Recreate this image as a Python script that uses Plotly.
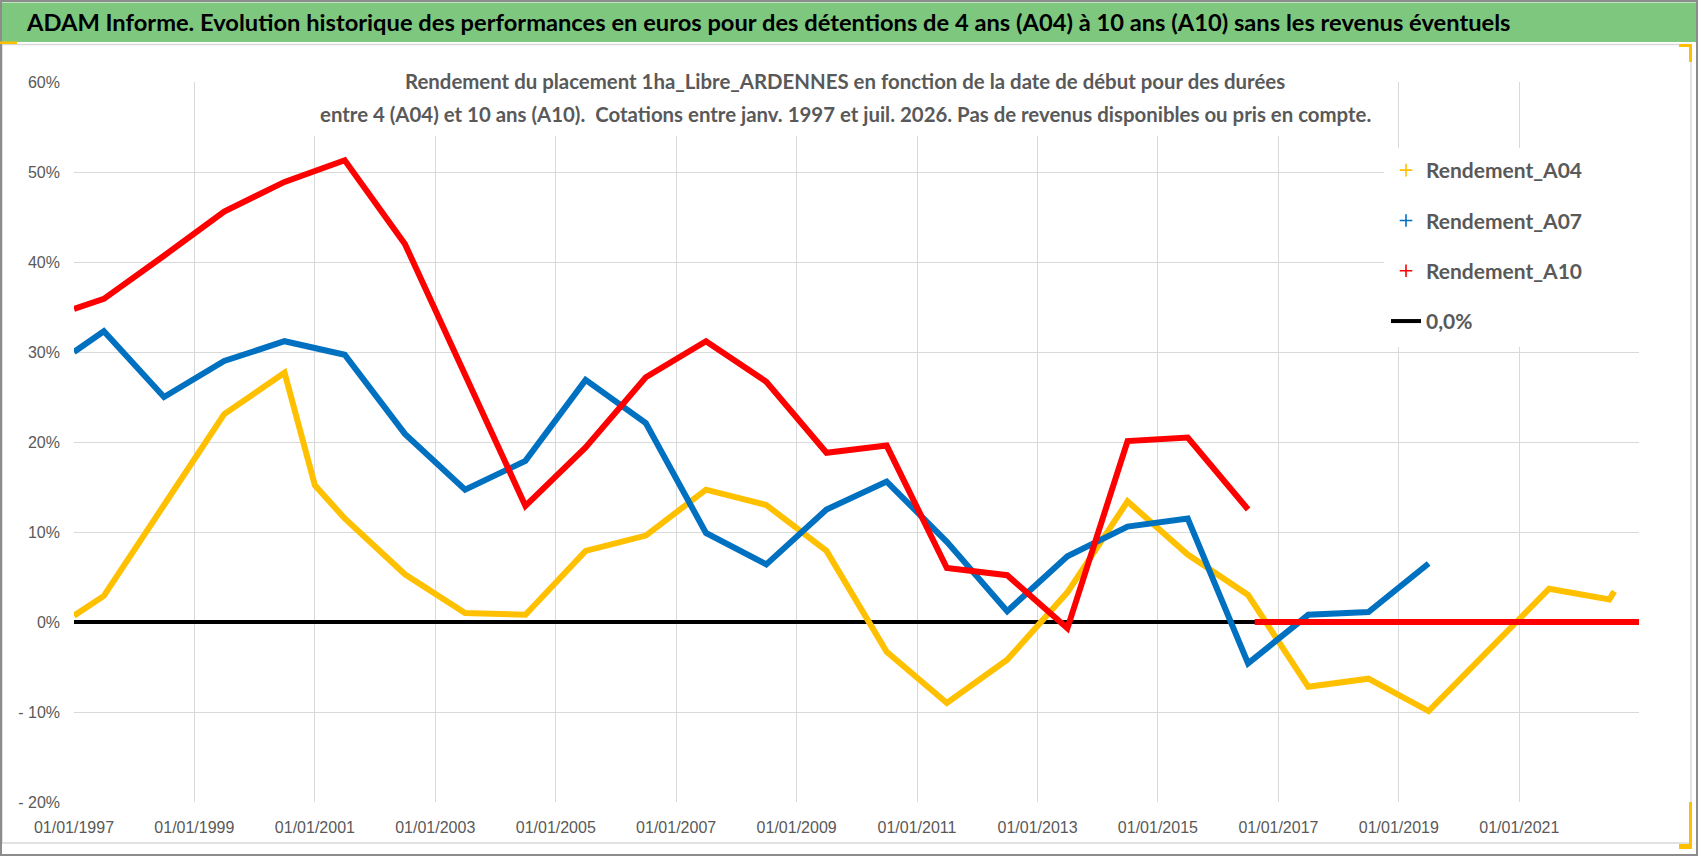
import plotly.graph_objects as go

# ---------------- data ----------------
A04_DATES = ["1997-01-01", "1997-07-01", "1998-07-01", "1999-07-01", "2000-07-01",
             "2001-01-01", "2001-07-01", "2002-07-01", "2003-07-01", "2004-07-01",
             "2005-07-01", "2006-07-01", "2007-07-01", "2008-07-01", "2009-07-01",
             "2010-07-01", "2011-07-01", "2012-07-01", "2013-07-01", "2014-07-01",
             "2015-07-01", "2016-07-01", "2017-07-01", "2018-07-01", "2019-07-01",
             "2020-07-01", "2021-07-01", "2022-07-01", "2022-07-31"]
A04_VALUES = [0.7, 2.9, 13.0, 23.1, 27.7, 15.2, 11.5, 5.3, 1.0, 0.8, 7.9, 9.6, 14.7, 13.0,
              7.9, -3.3, -9.0, -4.2, 3.3, 13.4, 7.5, 3.0, -7.2, -6.3, -9.9, -3.1, 3.7,
              2.5, 3.4]
A04_ZERO_DATES = ["2022-08-01", "2022-12-28"]
A04_ZERO_VALUES = [0.0, 0.0]

A07_DATES = ["1997-01-01", "1997-07-01", "1998-07-01", "1999-07-01", "2000-07-01",
             "2001-07-01", "2002-07-01", "2003-07-01", "2004-07-01", "2005-07-01",
             "2006-07-01", "2007-07-01", "2008-07-01", "2009-07-01", "2010-07-01",
             "2011-07-01", "2012-07-01", "2013-07-01", "2014-07-01", "2015-07-01",
             "2016-07-01", "2017-07-01", "2018-07-01", "2019-07-01"]
A07_VALUES = [30.0, 32.3, 25.0, 29.0, 31.2, 29.7, 20.9, 14.7, 17.9, 26.9, 22.1, 9.9,
              6.4, 12.5, 15.6, 8.9, 1.2, 7.3, 10.6, 11.5, -4.6, 0.8, 1.1, 6.5]
A07_ZERO_DATES = ["2019-08-01", "2022-12-28"]
A07_ZERO_VALUES = [0.0, 0.0]

A10_DATES = ["1997-01-01", "1997-07-01", "1998-07-01", "1999-07-01", "2000-07-01",
             "2001-07-01", "2002-07-01", "2003-07-01", "2004-07-01", "2005-07-01",
             "2006-07-01", "2007-07-01", "2008-07-01", "2009-07-01", "2010-07-01",
             "2011-07-01", "2012-07-01", "2013-07-01", "2014-07-01", "2015-07-01",
             "2016-07-01"]
A10_VALUES = [34.8, 35.9, 40.7, 45.6, 48.9, 51.3, 42.0, 27.6, 12.9, 19.4, 27.2, 31.2,
              26.7, 18.8, 19.6, 6.0, 5.2, -0.7, 20.1, 20.5, 12.5]
A10_ZERO_DATES = ["2016-08-10", "2022-12-28"]
A10_ZERO_VALUES = [0.0, 0.0]

ZERO_DATES = ["1997-01-01", "2022-12-28"]
ZERO_VALUES = [0.0, 0.0]

SERIES_NAMES = ["Rendement_A04", "Rendement_A07", "Rendement_A10", "0,0%"]
Y_TICK_VALUES = [-20, -10, 0, 10, 20, 30, 40, 50, 60]
Y_TICK_LABELS = ["- 20%", "- 10%", "0%", "10%", "20%", "30%", "40%", "50%", "60%"]
X_RANGE = ["1997-01-01", "2022-12-28"]

TITLE = ("ADAM Informe. Evolution historique des performances en euros pour des détentions "
         "de 4 ans (A04) à 10 ans (A10) sans les revenus éventuels")
SUB1 = "Rendement du placement 1ha_Libre_ARDENNES en fonction de la date de début pour des durées"
SUB2 = ("entre 4 (A04) et 10 ans (A10).  Cotations entre janv. 1997 et juil. 2026. "
        "Pas de revenus disponibles ou pris en compte.")

# ---------------- style ----------------
W, H = 1698, 856
ML, MR, MT, MB = 74, 59, 82, 54
PW, PH = W - ML - MR, H - MT - MB
HUMAN = "Lato, Roboto, sans-serif"
REG = "Liberation Sans, Arial, sans-serif"
GRAY_TXT = "#595959"
YELLOW, BLUE, RED = "#FFC000", "#0070C0", "#FF0000"


def px(x):
    return (x - ML) / PW


def py(y):
    return (H - MB - y) / PH


def seg(d1, v1, d2, v2):
    return list(d1) + [None] + list(d2), list(v1) + [None] + list(v2)


fig = go.Figure()

# 0,0% line (drawn first, underneath)
fig.add_trace(go.Scatter(x=ZERO_DATES, y=ZERO_VALUES, mode="lines", name=SERIES_NAMES[3],
                         line=dict(color="black", width=4), legendgroup="g4",
                         legendrank=4, hoverinfo="skip"))

for dates, vals, zd, zv, col, name, rank in [
    (A04_DATES, A04_VALUES, A04_ZERO_DATES, A04_ZERO_VALUES, YELLOW, SERIES_NAMES[0], 1),
    (A07_DATES, A07_VALUES, A07_ZERO_DATES, A07_ZERO_VALUES, BLUE, SERIES_NAMES[1], 2),
    (A10_DATES, A10_VALUES, A10_ZERO_DATES, A10_ZERO_VALUES, RED, SERIES_NAMES[2], 3),
]:
    xs, ys = seg(dates, vals, zd, zv)
    fig.add_trace(go.Scatter(x=xs, y=ys, mode="lines", connectgaps=False,
                             line=dict(color=col, width=6), showlegend=False,
                             hoverinfo="skip"))
    # legend entry: "+" marker
    fig.add_trace(go.Scatter(x=[None], y=[None], mode="markers", name=name,
                             legendgroup=f"g{rank}", legendrank=rank,
                             marker=dict(symbol="cross-thin", size=9, color=col,
                                         line=dict(color=col, width=1.6))))

fig.update_xaxes(type="date", range=X_RANGE, tick0="1997-01-01", dtick="M24",
                 tickformat="%d/%m/%Y", showgrid=True, gridcolor="#D9D9D9", gridwidth=1,
                 zeroline=False, showline=False, ticks="", ticklabelstandoff=14,
                 tickfont=dict(family=REG, size=16, color=GRAY_TXT))
fig.update_yaxes(range=[-20, 60], tickvals=Y_TICK_VALUES, ticktext=Y_TICK_LABELS,
                 showgrid=True, gridcolor="#D9D9D9", gridwidth=1, zeroline=False,
                 showline=False, ticks="", ticklabelstandoff=13,
                 tickfont=dict(family=REG, size=16, color=GRAY_TXT))

shapes = [
    # green title band
    dict(type="rect", xref="paper", yref="paper", x0=px(2), x1=px(W - 2), y0=py(42), y1=py(2.5),
         line=dict(width=0), fillcolor="#7DC77F", layer="below"),
    # inner chart-area border
    dict(type="rect", xref="paper", yref="paper", x0=px(2), x1=px(1691), y0=py(843), y1=py(44.5),
         line=dict(color="#D9D9D9", width=1.5), fillcolor="rgba(0,0,0,0)", layer="below"),
    # white masks over gridlines (subtitle / legend zones)
    dict(type="rect", xref="paper", yref="paper", x0=px(314), x1=px(1374), y0=py(136), y1=py(60),
         line=dict(width=0), fillcolor="white", layer="above"),
    dict(type="rect", xref="paper", yref="paper", x0=px(1384), x1=px(1645), y0=py(347), y1=py(148),
         line=dict(width=0), fillcolor="white", layer="above"),
    # outer frame
    dict(type="rect", xref="paper", yref="paper", x0=px(1), x1=px(W - 1), y0=py(H - 1), y1=py(1),
         line=dict(color="#8C8C8C", width=2), fillcolor="rgba(0,0,0,0)", layer="above"),
    # yellow selection handles
    dict(type="rect", xref="paper", yref="paper", x0=px(0), x1=px(17), y0=py(44), y1=py(41.5),
         line=dict(width=0), fillcolor=YELLOW, layer="above"),
    dict(type="rect", xref="paper", yref="paper", x0=px(1679), x1=px(1692), y0=py(47), y1=py(44),
         line=dict(width=0), fillcolor=YELLOW, layer="above"),
    dict(type="rect", xref="paper", yref="paper", x0=px(1689), x1=px(1692), y0=py(62), y1=py(44),
         line=dict(width=0), fillcolor=YELLOW, layer="above"),
    dict(type="rect", xref="paper", yref="paper", x0=px(1689), x1=px(1692), y0=py(849), y1=py(802),
         line=dict(width=0), fillcolor=YELLOW, layer="above"),
    dict(type="rect", xref="paper", yref="paper", x0=px(1679), x1=px(1692), y0=py(849), y1=py(844),
         line=dict(width=0), fillcolor=YELLOW, layer="above"),
]

annotations = [
    dict(text=f"<b>{TITLE}</b>", xref="paper", yref="paper", x=px(24), y=py(22.5),
         xanchor="left", yanchor="middle", showarrow=False,
         font=dict(family=HUMAN, size=23.7, color="#000000")),
    dict(text=f"<b>{SUB1}</b>", xref="paper", yref="paper", x=px(845), y=py(81),
         xanchor="center", yanchor="middle", showarrow=False,
         font=dict(family=HUMAN, size=20.4, color=GRAY_TXT)),
    dict(text=f"<b>{SUB2}</b>", xref="paper", yref="paper", x=px(845), y=py(114),
         xanchor="center", yanchor="middle", showarrow=False,
         font=dict(family=HUMAN, size=20.4, color=GRAY_TXT)),
]

fig.update_layout(
    width=W, height=H, margin=dict(l=ML, r=MR, t=MT, b=MB),
    paper_bgcolor="white", plot_bgcolor="white",
    shapes=shapes, annotations=annotations,
    legend=dict(x=px(1386), y=py(150), xanchor="left", yanchor="top",
                bgcolor="rgba(0,0,0,0)", borderwidth=0, traceorder="grouped",
                tracegroupgap=20, itemwidth=30,
                font=dict(family=HUMAN, size=21, color=GRAY_TXT, weight="bold")),
    showlegend=True,
)

fig.write_html("out.html", config={"displayModeBar": False},
               post_script="document.body.style.margin='0px';")
